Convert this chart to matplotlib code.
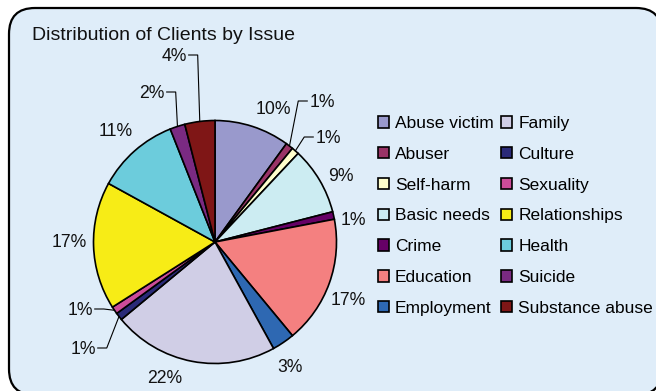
import numpy as np
import matplotlib
matplotlib.use("Agg")
import matplotlib.pyplot as plt
from matplotlib.patches import FancyBboxPatch

plt.rcParams['font.family'] = ['Liberation Sans', 'DejaVu Sans']

# Clients per issue, in percent, clockwise from 12 o'clock
issues = ['Abuse victim', 'Abuser', 'Self-harm', 'Basic needs', 'Crime',
          'Education', 'Employment', 'Family', 'Culture', 'Sexuality',
          'Relationships', 'Health', 'Suicide', 'Substance abuse']
shares = [10, 1, 1, 9, 1, 17, 3, 22, 1, 1, 17, 11, 2, 4]
colors = ['#9999CC', '#993366', '#FFFFCC', '#CCECF2', '#660066',
          '#F48080', '#2E68B2', '#D0CEE6', '#2A2A78', '#CC4C99',
          '#F7EC16', '#6CCCDC', '#7A2A82', '#7F1616']

# Label placement in pixels from the pie centre (x right, y down)
label_offsets = [(58, -134), (107, -141), (113, -105), (126, -67), (138, -23),
                 (133, 57), (75, 124), (-50, 135), (-132, 106), (-135, 67),
                 (-146, -1), (-99, -112), (-63, -150), (-41, -187)]
leader = [False, True, True, False, False, False, False, False,
          True, True, False, False, True, True]

W, H = 656, 391
fig = plt.figure(figsize=(W / 100, H / 100), dpi=100)
ax = fig.add_axes([0, 0, 1, 1])

# rounded chart area
frame = FancyBboxPatch((9, H - 395), 653, 387,
                       boxstyle="round,pad=0,rounding_size=26",
                       facecolor='#DFEDF9', edgecolor='black', linewidth=1.6)
ax.add_patch(frame)

cx, cy, r = 215, H - 242, 121.5
wedges, _ = ax.pie(shares, colors=colors, startangle=90, counterclock=False,
                   center=(cx, cy), radius=r, frame=True,
                   wedgeprops=dict(edgecolor='black', linewidth=1.2))

ax.set_xlim(0, W)
ax.set_ylim(0, H)
ax.set_aspect('auto')
ax.axis('off')

ax.text(32.5, H - 39.5, 'Distribution of Clients by Issue', fontsize=14,
        ha='left', va='baseline', color='#111111')

# percentage labels, small slices get an elbow leader line
vals = np.array(shares, dtype=float)
mids = np.cumsum(vals) - vals / 2
theta = np.deg2rad(90 - 360 * mids / vals.sum())
renderer = fig.canvas.get_renderer()
for v, (dx, dy), th, lead in zip(shares, label_offsets, theta, leader):
    tx, ty = cx + dx, cy - dy
    t = ax.text(tx, ty - 6, f'{v}%', fontsize=12.7, ha='center',
                va='baseline', color='#111111')
    if lead:
        hw = t.get_window_extent(renderer).width / 2
        ax_, ay_ = cx + r * np.cos(th), cy + r * np.sin(th)
        side = 1 if ax_ > tx else -1
        x0 = tx + side * (hw + 2)
        x1 = x0 + side * 9
        ax.plot([x0, x1, ax_], [ty, ty, ay_], color='black', linewidth=0.8)

ax.legend(wedges, issues, ncol=2, loc='upper left',
          bbox_to_anchor=(378 / W, 1 - 116 / H), frameon=False, fontsize=12.5,
          handlelength=0.62, handleheight=0.62, handletextpad=0.35,
          columnspacing=0.45, labelspacing=0.91, borderpad=0, borderaxespad=0)

fig.savefig('out.png', dpi=100, facecolor='white')
